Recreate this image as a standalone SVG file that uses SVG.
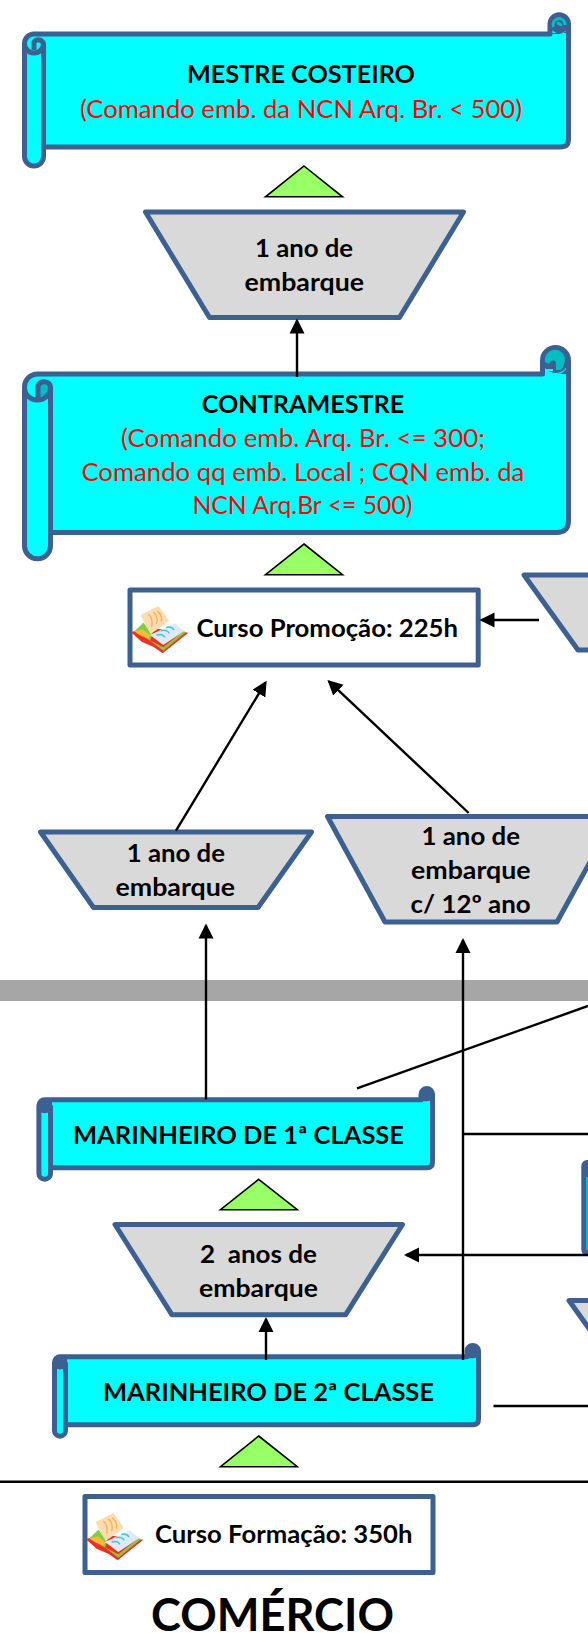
<svg xmlns="http://www.w3.org/2000/svg" width="588" height="1633" viewBox="0 0 588 1633">
<style>
.sc{fill:#00ffff;stroke:#3c6090;stroke-width:5;stroke-linejoin:round}
.cu{fill:none;stroke:#3c6090;stroke-width:5}
.dk{fill:#3c6090;stroke:none}
.te{fill:#00bfc4;stroke:none}
.tl{fill:none;stroke:#00bfc4;stroke-width:3}
.tr{fill:#d9d9d9;stroke:#3c6090;stroke-width:5;stroke-linejoin:round}
.bx{fill:#fff;stroke:#3c6090;stroke-width:5;stroke-linejoin:round}
.up{fill:#99ff66;stroke:#000;stroke-width:1.6;stroke-linejoin:miter}
.l{fill:none;stroke:#000;stroke-width:2.4}
.a{marker-end:url(#ah)}
text{font-family:Lato,"Liberation Sans",sans-serif;font-size:25px;fill:#000}
.b{font-weight:700}
.r{fill:#f00;font-weight:400}
</style>
<defs>
<marker id="ah" markerUnits="userSpaceOnUse" markerWidth="16" markerHeight="16" refX="13" refY="8" orient="auto"><path d="M0 0.5L15 8L0 15.5z" fill="#000"/></marker>
<g id="book">
<path d="M33 127L75 112L205 128L128 190L100 170L65 155z" fill="#f0301e"/>
<path d="M45 122L70 98L98 130L90 152z" fill="#7ed040"/>
<path d="M42 124L68 118L92 136L85 146L60 136z" fill="#f5b93c"/>
<path d="M88 150L130 172L192 122L196 128L130 182z" fill="#8cc63f"/>
<path d="M90 135L165 100L192 124L130 165z" fill="#dfe8f6"/>
<path d="M62 75L115 48L147 92L130 105L92 132L76 105z" fill="#fddcb0"/>
<path d="M85 72Q100 85 95 110M100 66Q116 80 110 102M112 62Q128 75 124 95" fill="none" stroke="#f7b04a" stroke-width="4"/>
<path d="M110 135Q128 130 135 142M122 122Q142 118 148 130M138 112Q155 108 162 120" fill="none" stroke="#35c8d8" stroke-width="4"/>
</g>
</defs>
<rect id="bar" x="0" y="980" width="588" height="21" fill="#a6a6a6"/>
<g id="mestre">
<path class="sc" d="M43.5 147H560.5Q568.5 147 568.5 139V24.3A9.25 9.5 0 0 0 550 24.3V34H34A9.5 9.5 0 0 0 24.5 43.5V156.5A9.5 9.5 0 0 0 43.5 156.5V43.5"/>
<path class="cu" d="M24.5 43.5A9.5 9.5 0 0 0 43.5 43.5A5.5 5.5 0 0 0 34 42V50"/>
<path d="M550 34H559A9.5 9.5 0 0 0 568.5 24.5V33H550z" fill="#3c6090"/>
<circle class="dk" cx="559.3" cy="24.3" r="9"/>
<path class="tl" d="M553.5 27A6 6 0 1 1 565 25"/>
<path class="tl" d="M557 24A2.5 2.5 0 0 1 561 26"/>
<text class="b" x="187" y="83" textLength="228" lengthAdjust="spacingAndGlyphs">MESTRE COSTEIRO</text>
<text class="r" x="80" y="117.5" textLength="442" lengthAdjust="spacingAndGlyphs">(Comando emb. da NCN Arq. Br. &lt; 500)</text>
</g>
<g id="tri1"><path class="up" d="M304 166L342.5 196.8H265.5z"/></g>
<g id="ano1">
<path class="tr" d="M145.5 212H463.5L399.5 317.5H209.5z"/>
<text class="b" x="255" y="256.5" textLength="98" lengthAdjust="spacingAndGlyphs">1 ano de</text>
<text class="b" x="244.5" y="290.5" textLength="119.5" lengthAdjust="spacingAndGlyphs">embarque</text>
</g>
<g id="contramestre">
<path class="sc" d="M50.5 532.5H556.5Q568.5 532.5 568.5 520.5V360.5A13 13 0 0 0 542.5 360.5V374H37.5A13 13 0 0 0 24.5 387V545.8A13 13 0 0 0 50.5 545.8V387"/>
<path class="te" d="M39 398V386A5 5 0 0 1 48 386V394Q46 398 39 398z"/>
<path class="cu" d="M24.5 388A13 12 0 0 0 50.5 388V387A6.5 6.5 0 0 0 38 386V399"/>
<path d="M543 374H556A12.5 12.5 0 0 0 568.5 361V374H543z" fill="#3c6090"/>
<circle class="dk" cx="555.5" cy="360" r="13"/>
<path class="te" d="M545 362A10 10 0 1 1 565 358Q565 366 561 370H556V362A4 4 0 0 0 549 364z"/>
<path d="M546 369H553V371H547z" fill="#00ffff"/>
<text class="b" x="201.7" y="412.5" textLength="202.5" lengthAdjust="spacingAndGlyphs">CONTRAMESTRE</text>
<text class="r" x="121" y="446.5" textLength="364" lengthAdjust="spacingAndGlyphs">(Comando emb. Arq. Br. &lt;= 300;</text>
<text class="r" x="81.4" y="480.5" textLength="443" lengthAdjust="spacingAndGlyphs">Comando qq emb. Local ; CQN emb. da</text>
<text class="r" x="192.4" y="513.5" textLength="220" lengthAdjust="spacingAndGlyphs">NCN Arq.Br &lt;= 500)</text>
</g>
<g id="tri2"><path class="up" d="M304 544L342.5 574.7H265.5z"/></g>
<g id="promocao">
<rect class="bx" x="130" y="590" width="348.2" height="75"/>
<use href="#book" transform="translate(120 590) scale(.3333)"/>
<text class="b" x="196.5" y="636.5" textLength="261.5" lengthAdjust="spacingAndGlyphs">Curso Promoção: 225h</text>
</g>
<g id="trap-direita"><path class="tr" d="M524 575H640V650H578z"/></g>
<g id="ano2">
<path class="tr" d="M40.5 832H311.5L258 907.5H93.5z"/>
<text class="b" x="126.7" y="861.5" textLength="98.3" lengthAdjust="spacingAndGlyphs">1 ano de</text>
<text class="b" x="115.5" y="896" textLength="119.5" lengthAdjust="spacingAndGlyphs">embarque</text>
</g>
<g id="ano3">
<path class="tr" d="M327.5 816.5H615L557 922H385z"/>
<text class="b" x="421.5" y="845" textLength="98.5" lengthAdjust="spacingAndGlyphs">1 ano de</text>
<text class="b" x="411" y="879" textLength="119.5" lengthAdjust="spacingAndGlyphs">embarque</text>
<text class="b" x="410.6" y="912.5" textLength="120" lengthAdjust="spacingAndGlyphs">c/ 12º ano</text>
</g>
<g id="marinheiro1">
<path class="sc" d="M50.5 1167.8H427Q432.5 1167.8 432.5 1162V1094.3A5.75 5.8 0 0 0 421 1094.3V1099.8H44.7A5.8 5.8 0 0 0 38.9 1105.6V1173.4A5.8 5.8 0 0 0 50.5 1173.4V1105.6"/>
<path d="M38.9 1106A5.8 5.8 0 0 0 50.5 1106V1100H44.7A5.8 5.8 0 0 0 38.9 1106zM421 1099.8H427A5.75 5.8 0 0 0 432.5 1094.3A5.75 5.8 0 0 0 421 1094.3z" fill="#3c6090" stroke="#3c6090" stroke-width="3"/>
<text class="b" x="73" y="1144" textLength="331" lengthAdjust="spacingAndGlyphs">MARINHEIRO DE 1ª CLASSE</text>
</g>
<g id="tri3"><path class="up" d="M258.7 1179.3L297.3 1209.7H220.5z"/></g>
<g id="anos2">
<path class="tr" d="M115 1224.5H402.5L345.5 1314.8H172z"/>
<text class="b" x="200" y="1263.3" textLength="117" lengthAdjust="spacingAndGlyphs" style="white-space:pre">2  anos de</text>
<text class="b" x="199" y="1296.7" textLength="119" lengthAdjust="spacingAndGlyphs">embarque</text>
</g>
<g id="marinheiro2">
<path class="sc" d="M65.5 1424.8H473Q478.5 1424.8 478.5 1419V1351A5.75 5.5 0 0 0 467 1351V1356.8H60A5.5 5.5 0 0 0 54.5 1362.3V1430.7A5.5 5.5 0 0 0 65.5 1430.7V1362.3"/>
<path d="M54.5 1362.5A5.5 5.5 0 0 0 65.5 1362.5V1357H60A5.5 5.5 0 0 0 54.5 1362.5zM467 1356.8H473A5.75 5.5 0 0 0 478.5 1351A5.75 5.5 0 0 0 467 1351z" fill="#3c6090" stroke="#3c6090" stroke-width="3"/>
<text class="b" x="103" y="1400.7" textLength="331" lengthAdjust="spacingAndGlyphs">MARINHEIRO DE 2ª CLASSE</text>
</g>
<g id="tri4"><path class="up" d="M258.7 1436L297.3 1466.7H220.5z"/></g>
<g id="formacao">
<rect class="bx" x="85" y="1496.5" width="348" height="76"/>
<use href="#book" transform="translate(75 1497) scale(.3333)"/>
<text class="b" x="155" y="1543.3" textLength="257.5" lengthAdjust="spacingAndGlyphs">Curso Formação: 350h</text>
</g>
<g id="scroll-direita">
<path class="dk" d="M588 1160H587A6 6 0 0 0 581.3 1166V1250A6 6 0 0 0 587 1255.5H588z"/>
<path class="te" d="M586 1177H588V1250H586z"/>
</g>
<g id="trap-direita2"><path class="tr" d="M569 1300.5H640V1400z"/></g>
<text id="comercio" class="b" x="151" y="1631" textLength="243" lengthAdjust="spacingAndGlyphs" style="font-size:46px">COMÉRCIO</text>
<g id="connectors">
<path class="l a" d="M297 377V320.5"/>
<path class="l a" d="M539 620H481.5"/>
<path class="l a" d="M176 830.7L265.6 682.4"/>
<path class="l a" d="M468.7 813L328.9 681.4"/>
<path class="l a" d="M206 1099.3V925.5"/>
<path class="l a" d="M463 1360V940"/>
<path class="l" d="M357 1088.3L588 1006"/>
<path class="l" d="M463 1134H588"/>
<path class="l a" d="M588 1255H406"/>
<path class="l a" d="M266 1360V1319"/>
<path class="l" d="M493.5 1406H588"/>
<path class="l" d="M0 1481.7H588"/>
</g>
</svg>
